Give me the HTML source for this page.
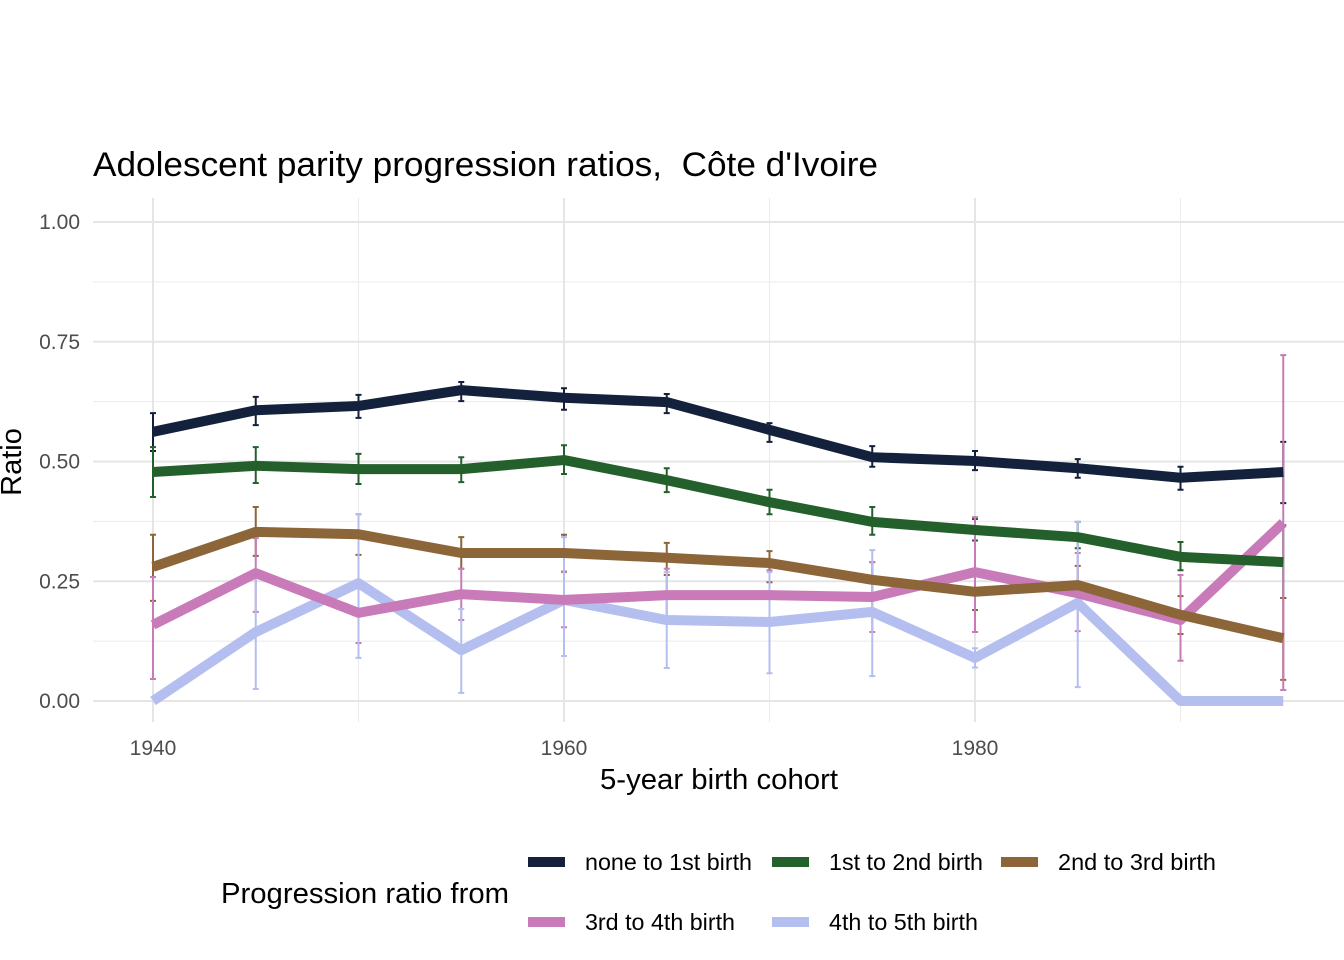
<!DOCTYPE html>
<html><head><meta charset="utf-8">
<style>
html,body{margin:0;padding:0;background:#fff;}
svg{display:block;font-family:"Liberation Sans",Arial,sans-serif;}
</style></head>
<body>
<svg id="chart" width="1344" height="960" viewBox="0 0 1344 960">
  <text x="93" y="176" font-size="34" fill="#000" textLength="785" lengthAdjust="spacingAndGlyphs">Adolescent parity progression ratios,&#160; Côte d'Ivoire</text>
  <g id="grid"></g>
  <g id="ebars"></g>
  <g id="lines"></g>
  <g id="axes"></g>
  <text x="719" y="789" font-size="29" text-anchor="middle" fill="#000" textLength="238" lengthAdjust="spacingAndGlyphs">5-year birth cohort</text>
  <text transform="translate(21,462) rotate(-90)" font-size="29" text-anchor="middle" fill="#000">Ratio</text>
  <g id="legend">
    <text x="221" y="903" font-size="29" fill="#000" textLength="288" lengthAdjust="spacingAndGlyphs">Progression ratio from</text>
  </g>
</svg>
<script>
const years = [1940,1945,1950,1955,1960,1965,1970,1975,1980,1985,1990,1995];
const seriesNames = ["none to 1st birth","1st to 2nd birth","2nd to 3rd birth","3rd to 4th birth","4th to 5th birth"];
const seriesColors = ["#14213d","#23602b","#8c6539","#c87bb8","#b4bff0"];
const s1 = [0.562,0.607,0.616,0.649,0.633,0.624,0.566,0.509,0.501,0.486,0.466,0.478];
const s1lo = [0.522,0.576,0.591,0.626,0.608,0.601,0.541,0.489,0.482,0.466,0.441,0.413];
const s1hi = [0.601,0.635,0.639,0.666,0.653,0.641,0.580,0.532,0.522,0.505,0.489,0.541];
const s2 = [0.478,0.491,0.484,0.484,0.503,0.461,0.415,0.374,0.357,0.342,0.301,0.290];
const s2lo = [0.426,0.455,0.453,0.457,0.474,0.436,0.390,0.347,0.335,0.319,0.273,0.215];
const s2hi = [0.530,0.530,0.516,0.509,0.534,0.486,0.441,0.405,0.380,0.374,0.332,0.367];
const s3 = [0.280,0.353,0.348,0.309,0.309,0.299,0.288,0.253,0.228,0.242,0.180,0.131];
const s3lo = [0.209,0.303,0.305,0.276,0.270,0.263,0.248,0.215,0.190,0.204,0.140,0.044];
const s3hi = [0.347,0.405,0.390,0.342,0.347,0.330,0.313,0.290,0.262,0.282,0.219,0.215];
const s4 = [0.159,0.267,0.184,0.223,0.211,0.221,0.221,0.217,0.269,0.225,0.169,0.372];
const s4lo = [0.046,0.186,0.121,0.169,0.154,0.167,0.165,0.144,0.144,0.146,0.084,0.023];
const s4hi = [0.259,0.340,0.240,0.276,0.269,0.276,0.273,0.290,0.384,0.309,0.263,0.722];
const s5 = [0.000,0.144,0.246,0.106,0.211,0.169,0.165,0.186,0.090,0.205,0.000,0.000];
const s5lo = [0.000,0.025,0.090,0.017,0.094,0.069,0.058,0.052,0.070,0.029,0.000,0.000];
const s5hi = [0.000,0.265,0.390,0.192,0.342,0.269,0.269,0.315,0.110,0.374,0.000,0.000];
const yTicks = [0,0.25,0.5,0.75,1.0];
const yTickLabels = ["0.00","0.25","0.50","0.75","1.00"];
const xTicks = [1940,1960,1980];

const NS = "http://www.w3.org/2000/svg";
const X = v => 153 + (v - 1940) * (975 - 153) / 40;
const Y = v => 701 - v * 479;
function mk(tag, attrs, parent){ const e=document.createElementNS(NS,tag); for(const k in attrs) e.setAttribute(k,attrs[k]); parent.appendChild(e); return e; }

const grid = document.getElementById('grid');
const axes = document.getElementById('axes');
const L=93, R=1344, T=198, B=722;
for (let i=0;i<yTicks.length-1;i++){
  const v=(yTicks[i]+yTicks[i+1])/2;
  const g = mk('line',{x1:L,x2:R,y1:Y(v),y2:Y(v),stroke:'#ebebeb','stroke-width':1},grid);
  
  
}
for (let i=0;i<xTicks.length;i++){
  const v=xTicks[i]+10;
  const g = mk('line',{x1:X(v),x2:X(v),y1:T,y2:B,stroke:'#ebebeb','stroke-width':1},grid);
  
  
}
yTicks.forEach((v,i)=>{
  const g = mk('line',{x1:L,x2:R,y1:Y(v),y2:Y(v),stroke:'#e5e5e5','stroke-width':2},grid);
  
  
  const t = mk('text',{x:80,y:Y(v)+7,'font-size':21,'text-anchor':'end',fill:'#4d4d4d'},axes);
  t.textContent = yTickLabels[i];
  
  
});
xTicks.forEach(v=>{
  const g = mk('line',{x1:X(v),x2:X(v),y1:T,y2:B,stroke:'#e5e5e5','stroke-width':2},grid);
  
  
  const t = mk('text',{x:X(v),y:755,'font-size':21,'text-anchor':'middle',fill:'#4d4d4d'},axes);
  t.textContent = v;
  
  
});

const vals=[s1,s2,s3,s4,s5], los=[s1lo,s2lo,s3lo,s4lo,s5lo], his=[s1hi,s2hi,s3hi,s4hi,s5hi];
const eb = document.getElementById('ebars');
const lines = document.getElementById('lines');
for (let s=0;s<5;s++){
  const col=seriesColors[s];
  const g = mk('g',{},eb);
  
  
  years.forEach((yr,i)=>{
    if (his[s][i]-los[s][i] < 0.001) return;
    const x=X(yr);
    const p = mk('path',{d:`M${x},${Y(his[s][i])}V${Y(los[s][i])}M${x-3},${Y(his[s][i])}H${x+3}M${x-3},${Y(los[s][i])}H${x+3}`,stroke:col,'stroke-width':2,fill:'none'},g);
    
    
  });
}
for (let s=4;s>=0;s--){
  const pts = years.map((yr,i)=>X(yr)+','+Y(vals[s][i])).join(' ');
  const pl = mk('polyline',{points:pts,fill:'none',stroke:seriesColors[s],'stroke-width':10,'stroke-linejoin':'round'},lines);
  
  
}
const leg = document.getElementById('legend');
const lx=[528,772,1001,528,772], ly=[862,862,862,922,922];
const lw=[167,154,158,150,149];
seriesNames.forEach((n,i)=>{
  const r = mk('rect',{x:lx[i],y:ly[i]-5,width:37,height:10,fill:seriesColors[i]},leg);
  
  
  const t = mk('text',{x:lx[i]+57,y:ly[i]+8,'font-size':23,fill:'#000',textLength:lw[i],lengthAdjust:'spacingAndGlyphs'},leg);
  t.textContent=n;
  
  
});
</script>
</body></html>
